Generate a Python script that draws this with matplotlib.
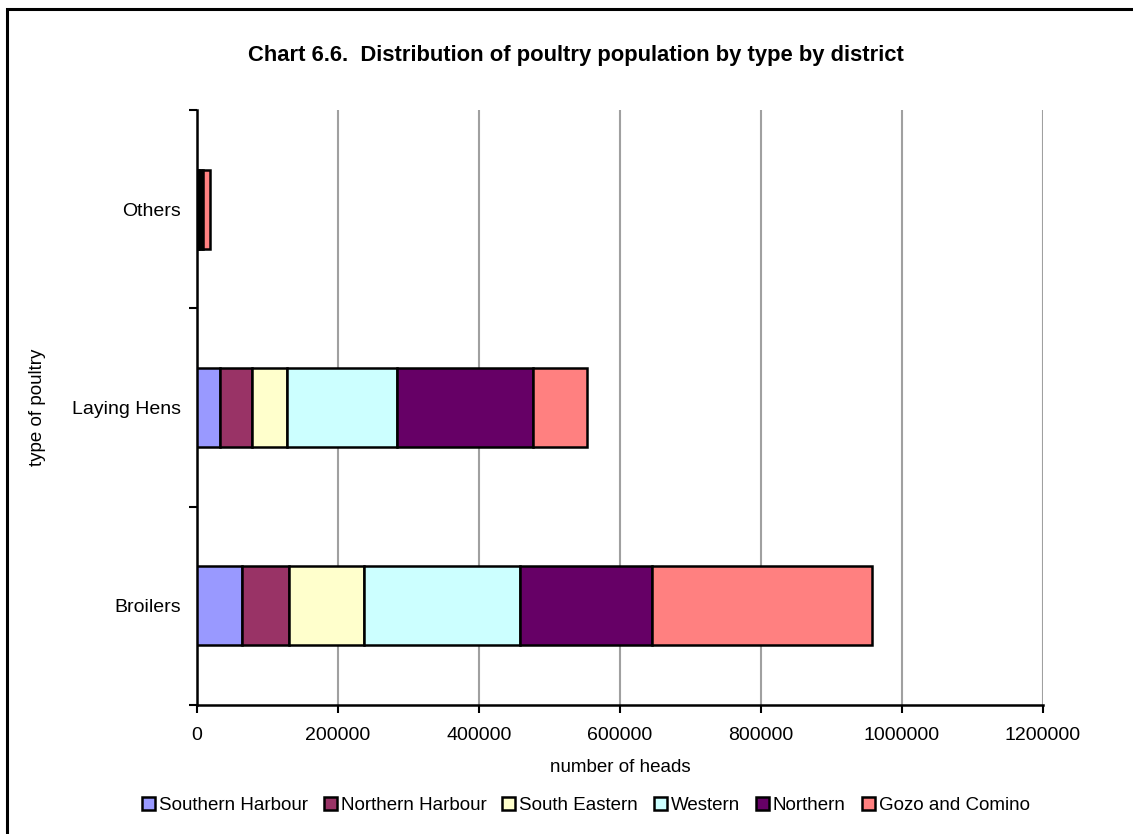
import matplotlib
matplotlib.use('Agg')
import matplotlib.pyplot as plt
import numpy as np
from matplotlib.patches import Rectangle

plt.rcParams['font.family'] = ['Liberation Sans', 'DejaVu Sans']

# ── data ───────────────────────────────────────────────
POULTRY   = ['Broilers', 'Laying Hens', 'Others']
DISTRICTS = ['Southern Harbour', 'Northern Harbour', 'South Eastern',
             'Western', 'Northern', 'Gozo and Comino']
southern_harbour = [64000, 32300, 500]
northern_harbour = [67000, 45500, 1000]
south_eastern    = [105800, 50300, 2000]
western          = [222000, 156100, 2500]
northern         = [187000, 192700, 2200]
gozo_comino      = [311500, 75900, 10900]
X_TICKS = [0, 200000, 400000, 600000, 800000, 1000000, 1200000]

COLORS = ['#9999FF', '#993366', '#FFFFCC', '#CCFFFF', '#660066', '#FF8080']

series = [southern_harbour, northern_harbour, south_eastern,
          western, northern, gozo_comino]

fig = plt.figure(figsize=(11.33, 8.34), dpi=100)
ax = fig.add_axes([0.1739, 0.1547, 0.7467, 0.7134])

y = np.arange(len(POULTRY))
left = np.zeros(len(POULTRY))
for name, vals, clr in zip(DISTRICTS, series, COLORS):
    ax.barh(y, vals, left=left, height=0.4, color=clr,
            edgecolor='black', linewidth=1.8, label=name, zorder=3)
    left += np.array(vals)

ax.set_xlim(0, 1200000)
ax.set_ylim(-0.5, 2.5)
ax.set_xticks(X_TICKS)
ax.set_xticklabels([str(t) for t in X_TICKS], fontsize=14)
ax.set_yticks(y)
ax.set_yticklabels(POULTRY, fontsize=14)
ax.tick_params(axis='y', length=0, pad=11.5)
ax.set_yticks([-0.5, 0.5, 1.5, 2.5], minor=True)
ax.tick_params(axis='y', which='minor', length=6, width=1.5, direction='out')
ax.tick_params(axis='x', length=6, width=1.5, direction='out', pad=10)

ax.grid(axis='x', color='#A0A0A0', linewidth=1.5, zorder=0)
ax.spines[['top', 'right']].set_visible(False)
ax.spines['left'].set_linewidth(1.8)
ax.spines['bottom'].set_linewidth(1.8)

ax.set_xlabel('number of heads', fontsize=13.5, labelpad=11)
ax.set_ylabel('type of poultry', fontsize=13.5, labelpad=19)

fig.text(0.508, 0.934, 'Chart 6.6.  Distribution of poultry population by type by district',
         ha='center', va='center', fontsize=15.8, fontweight='bold')

ax.legend(loc='center', bbox_to_anchor=(0.517, 0.034), bbox_transform=fig.transFigure,
          ncol=6, frameon=False, fontsize=13.5, handlelength=0.7, handleheight=0.7,
          handletextpad=0.2, columnspacing=0.85)

fig.add_artist(Rectangle((7 / 1133, -0.02), 1.05, 1 - 9 / 834 + 0.02,
                         transform=fig.transFigure, fill=False,
                         edgecolor='black', linewidth=2.2))

fig.savefig('out.png', dpi=100)
